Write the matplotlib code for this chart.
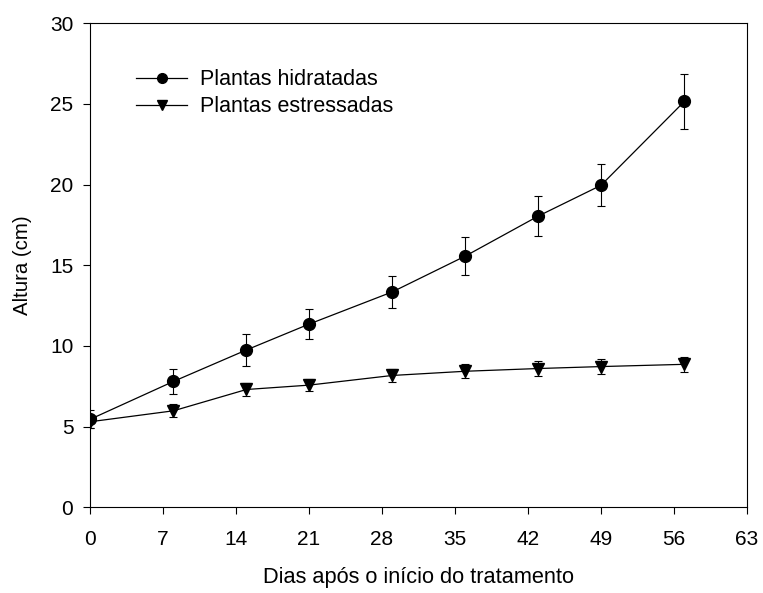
import matplotlib
matplotlib.use('Agg')
import matplotlib.pyplot as plt
from matplotlib.lines import Line2D

plt.rcParams['font.family'] = ['Liberation Sans', 'DejaVu Sans']

# altura das plantas ao longo do experimento
dias = [0, 8, 15, 21, 29, 36, 43, 49, 57]
hidratadas = [5.45, 7.8, 9.75, 11.35, 13.35, 15.57, 18.05, 19.95, 25.15]
erro_hidratadas = [0.55, 0.8, 1.0, 0.93, 1.0, 1.2, 1.24, 1.3, 1.72]
estressadas = [5.3, 5.98, 7.3, 7.57, 8.17, 8.43, 8.6, 8.72, 8.86]
erro_estressadas = [0.4, 0.4, 0.38, 0.39, 0.41, 0.43, 0.44, 0.45, 0.47]

xticks = list(range(0, 64, 7))
yticks = list(range(0, 31, 5))

fig = plt.figure(figsize=(7.63, 5.93), dpi=100)
ax = fig.add_axes([0.118, 0.1445, 0.861, 0.8165])

ax.errorbar(dias, hidratadas, yerr=erro_hidratadas, color='black', marker='o',
            markersize=8.5, linewidth=0.9, elinewidth=0.8, capsize=3.2,
            capthick=0.8, zorder=3)
ax.errorbar(dias, estressadas, yerr=erro_estressadas, color='black', marker='v',
            markersize=8, linewidth=0.9, elinewidth=0.8, capsize=3.2,
            capthick=0.8, zorder=3)

ax.set_xlim(0, 63)
ax.set_ylim(0, 30)
ax.set_xticks(xticks)
ax.set_yticks(yticks)
ax.tick_params(direction='out', length=5, width=0.8, labelsize=15, pad=7,
               top=False, right=False)
ax.tick_params(axis='x', pad=11)
for s in ax.spines.values():
    s.set_linewidth(0.8)

ax.set_xlabel('Dias após o início do tratamento', fontsize=15.7, labelpad=13)
ax.set_ylabel('Altura (cm)', fontsize=14.7, labelpad=13)

# legenda só com linha e marcador, sem barras de erro
handles = [Line2D([], [], color='black', marker='o', markersize=7, linewidth=0.9),
           Line2D([], [], color='black', marker='v', markersize=6.5, linewidth=0.9)]
labels = ['Plantas hidratadas', 'Plantas estressadas']
ax.legend(handles, labels, loc='upper left', bbox_to_anchor=(0.04, 0.945),
          frameon=False, fontsize=15.5, handlelength=2.4, handletextpad=0.6,
          labelspacing=0.28)

fig.savefig('out.png', dpi=100)
